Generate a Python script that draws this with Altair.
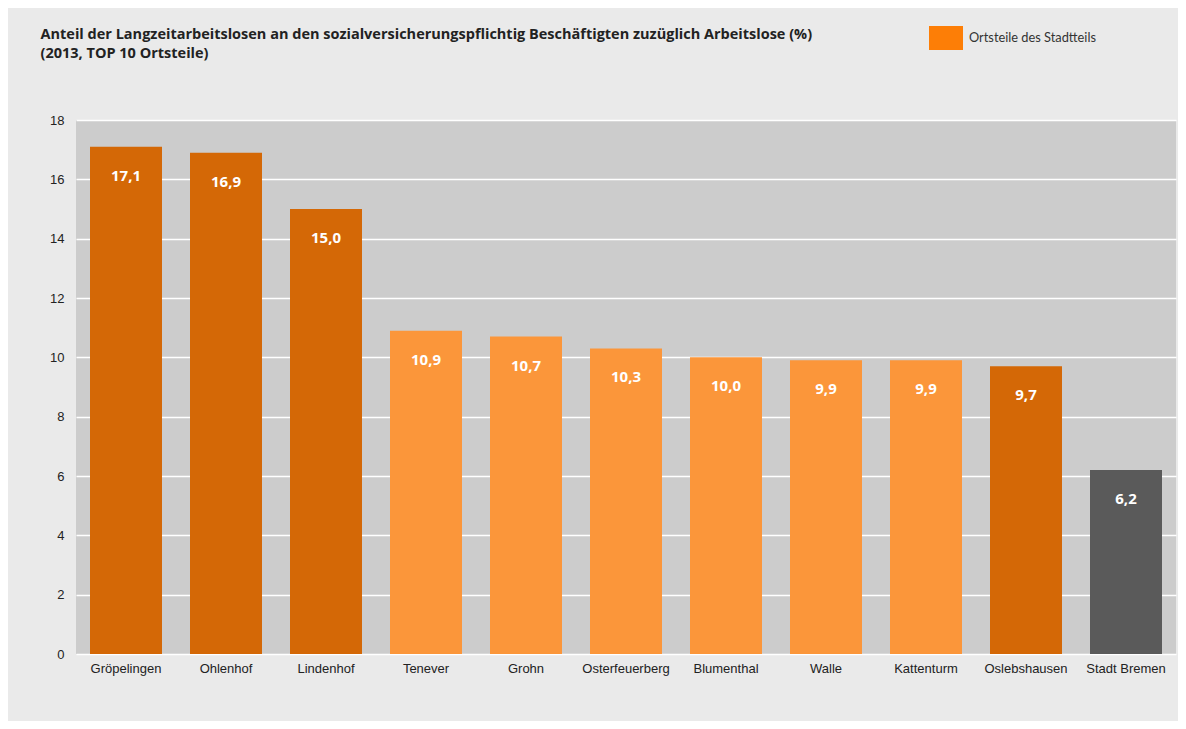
import altair as alt
import pandas as pd

ortsteile = ["Gröpelingen", "Ohlenhof", "Lindenhof", "Tenever", "Grohn", "Osterfeuerberg",
             "Blumenthal", "Walle", "Kattenturm", "Oslebshausen", "Stadt Bremen"]
werte = [17.1, 16.9, 15.0, 10.9, 10.7, 10.3, 10.0, 9.9, 9.9, 9.7, 6.2]
gruppen = ["Stadtteil", "Stadtteil", "Stadtteil", "Andere", "Andere", "Andere",
           "Andere", "Andere", "Andere", "Stadtteil", "Stadt"]

legend_label = "Ortsteile des Stadtteils"
color_domain = [legend_label, "Stadtteil", "Andere", "Stadt"]
color_range = ["#fd7e06", "#d46806", "#fb963a", "#5a5a5a"]

df = pd.DataFrame({"Ortsteil": ortsteile, "Wert": werte, "Gruppe": gruppen})

base = alt.Chart(df).encode(
    x=alt.X("Ortsteil:N", sort=None, title=None,
            scale=alt.Scale(paddingInner=0.28, paddingOuter=0.14),
            axis=alt.Axis(labelAngle=0, labelFont="Liberation Sans", labelFontSize=13,
                          labelColor="#222222", ticks=False, domain=False, labelPadding=8)),
)

bars = base.mark_bar().encode(
    y=alt.Y("Wert:Q", title=None,
            scale=alt.Scale(domain=[0, 18]),
            axis=alt.Axis(values=[0, 2, 4, 6, 8, 10, 12, 14, 16, 18], ticks=False, domain=False,
                          grid=True, gridColor="#ffffff", gridWidth=1.5,
                          labelFont="Liberation Sans", labelFontSize=13, labelColor="#222222",
                          labelPadding=12)),
    color=alt.Color("Gruppe:N",
                    scale=alt.Scale(domain=color_domain, range=color_range),
                    legend=alt.Legend(values=[legend_label], title=None, orient="none",
                                      legendX=853, legendY=-99,
                                      symbolType="M-1,-0.706L1,-0.706L1,0.706L-1,0.706Z",
                                      symbolSize=1156, symbolStrokeWidth=0,
                                      symbolOpacity=1, labelFont="Lato", labelFontSize=12.8,
                                      labelColor="#333333", labelOffset=6, padding=0)),
)

labels = base.mark_text(baseline="middle", dy=29, color="#ffffff", font="Open Sans",
                        fontWeight="bold", fontSize=15).transform_calculate(
    Label="replace(format(datum.Wert, '.1f'), '.', ',')"
).encode(
    y=alt.Y("Wert:Q"),
    text=alt.Text("Label:N"),
)

chart = alt.layer(bars, labels).properties(
    width=1100,
    height=534,
    title=alt.Title(
        ["Anteil der Langzeitarbeitslosen an den sozialversicherungspflichtig Beschäftigten zuzüglich Arbeitslose (%)",
         "(2013, TOP 10 Ortsteile)"],
        anchor="start", font="Open Sans", fontSize=14.5, fontWeight="bold", color="#222222",
        dx=-9, dy=40, lineHeight=19, offset=0),
    autosize=alt.AutoSizeParams(type="none"),
    padding={"left": 68, "top": 112, "right": 2, "bottom": 67},
    background="#eaeaea",
).configure_view(fill="#cccccc", stroke=None)

chart.save("out.html", embed_options={"renderer": "svg", "actions": False})
